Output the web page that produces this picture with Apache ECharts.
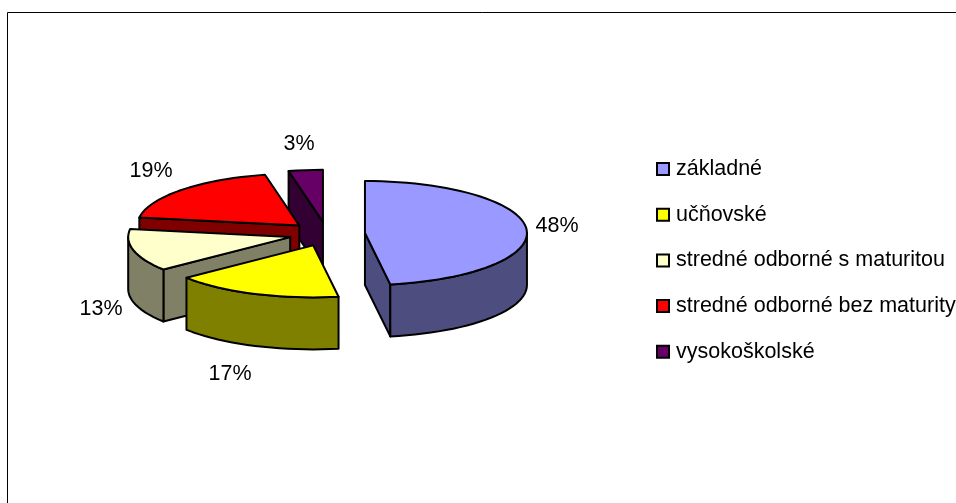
<!DOCTYPE html>
<html>
<head>
<meta charset="utf-8">
<style>html,body{margin:0;padding:0;background:#fff}#c{width:956px;height:503px}</style>
<script src="https://cdn.jsdelivr.net/npm/echarts@6/dist/echarts.min.js"></script>
</head>
<body>
<div id="c"></div>
<script>
const categories = ['základné', 'učňovské', 'stredné odborné s maturitou', 'stredné odborné bez maturity', 'vysokoškolské'];
const values = [47.5, 16.8, 13.2, 19.1, 3.4];
const topColors = ['#9999FF', '#FFFF00', '#FFFFCC', '#FF0000', '#660066'];
const sideColors = ['#4D4D80', '#808000', '#808066', '#800000', '#330033'];
const labelPlaces = [[557, 226], [230, 374], [101, 309], [151, 171], [299, 144]];
const paintLayers = [4, 5, 3, 2, 1];

const CX = 327, CY = 234, RX = 162, RY = 52, DEPTH = 52, EXPLODE = 0.235;
const FONT = '21.5px "Liberation Sans", Arial, sans-serif';
const total = values.reduce((a, b) => a + b, 0);
const rad = d => d * Math.PI / 180;

function slice(i) {
  const before = values.slice(0, i).reduce((a, b) => a + b, 0);
  const a0 = before / total * 360, a1 = (before + values[i]) / total * 360, mid = (a0 + a1) / 2;
  const ox = CX + RX * EXPLODE * Math.sin(rad(mid));
  const oy = CY - RY * EXPLODE * Math.cos(rad(mid));
  const at = (deg, h) => [ox + RX * Math.sin(rad(deg)), oy - RY * Math.cos(rad(deg)) + (h || 0)];
  return { a0, a1, apex: [ox, oy], at };
}

function renderSlice(i) {
  const s = slice(i);
  const side = sideColors[i];
  const line = { stroke: '#000', lineWidth: 2, lineJoin: 'round' };
  const children = [];
  const poly = (points, fill) => children.push({ type: 'polygon', shape: { points }, style: Object.assign({ fill }, line) });
  const wall = deg => poly([s.apex, s.at(deg), s.at(deg, DEPTH), [s.apex[0], s.apex[1] + DEPTH]], side);
  if (Math.sin(rad(s.a0)) < -1e-6) wall(s.a0);
  if (Math.sin(rad(s.a1)) > 1e-6) wall(s.a1);
  const from = Math.max(s.a0, 90), to = Math.min(s.a1, 270);
  if (to > from) {
    const upper = [], lower = [];
    for (let d = from; d < to; d += 3) { upper.push(s.at(d)); lower.unshift(s.at(d, DEPTH)); }
    upper.push(s.at(to)); lower.unshift(s.at(to, DEPTH));
    poly(upper.concat(lower), side);
  }
  const face = [s.apex];
  for (let d = s.a0; d < s.a1; d += 3) face.push(s.at(d));
  face.push(s.at(s.a1));
  poly(face, topColors[i]);
  children.push({
    type: 'text', z2: 50,
    style: {
      text: Math.round(values[i]) + '%', x: labelPlaces[i][0], y: labelPlaces[i][1],
      align: 'center', verticalAlign: 'middle', font: FONT, fill: '#000'
    }
  });
  return { type: 'group', children };
}

const chart = echarts.init(document.getElementById('c'), null, { renderer: 'canvas' });
chart.setOption({
  animation: false,
  backgroundColor: '#fff',
  graphic: [{
    type: 'rect', silent: true, z: -10,
    shape: { x: 7.5, y: 12.5, width: 1100, height: 700 },
    style: { fill: 'none', stroke: '#000', lineWidth: 1 }
  }],
  legend: {
    orient: 'vertical', left: 656, top: 158, padding: 0,
    itemWidth: 12, itemHeight: 12, itemGap: 23.7,
    icon: 'rect', selectedMode: false,
    itemStyle: { borderColor: '#000', borderWidth: 2 },
    textStyle: { fontFamily: '"Liberation Sans", Arial, sans-serif', fontSize: 21.5, lineHeight: 21, color: '#000', padding: [0, 0, 0, 2] },
    data: categories
  },
  series: categories.map((name, i) => ({
    type: 'custom', name, z: paintLayers[i],
    coordinateSystem: 'none',
    itemStyle: { color: topColors[i] },
    data: [values[i]],
    renderItem: () => renderSlice(i)
  }))
});
</script>
</body>
</html>
